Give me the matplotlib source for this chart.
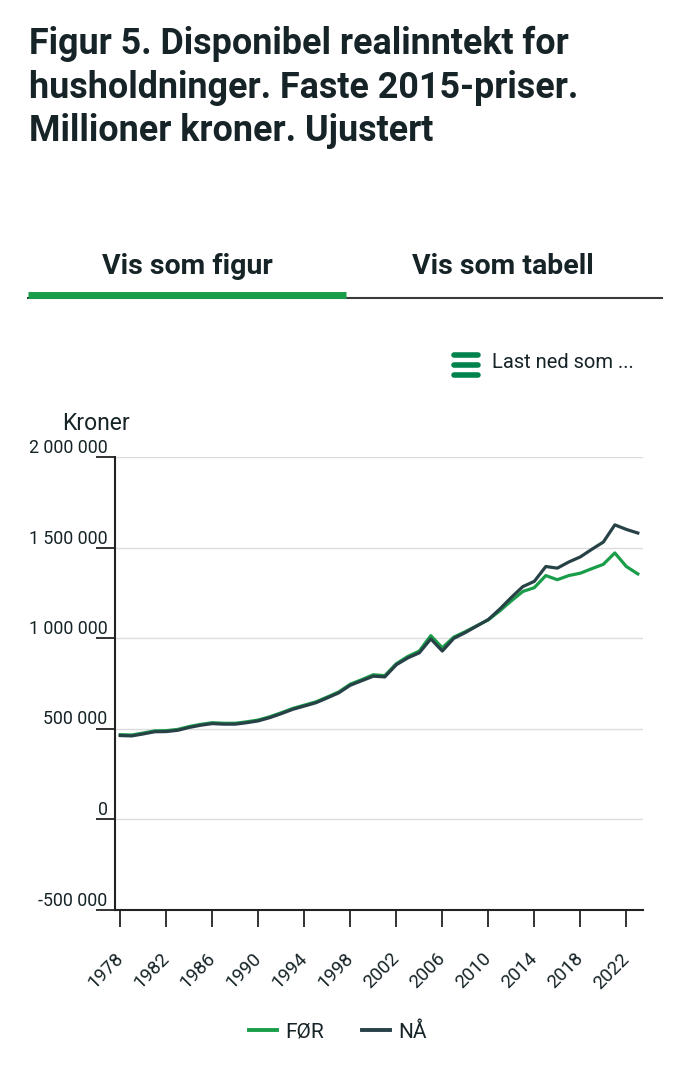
import matplotlib
matplotlib.use('Agg')
import matplotlib.pyplot as plt
from matplotlib.lines import Line2D
from matplotlib.transforms import ScaledTranslation

plt.rcParams['font.family'] = ['Roboto', 'DejaVu Sans']

# data
years = list(range(1978, 2024))
for_vals = [466000, 464000, 475000, 487000, 488000, 495000, 511000, 523000, 532000, 529000,
            529000, 537000, 547000, 565000, 587000, 611000, 629000, 647000, 674000, 702000,
            745000, 770000, 797000, 792000, 858000, 898000, 928000, 1013000, 946000, 1005000,
            1035000, 1068000, 1100000, 1150000, 1205000, 1257000, 1278000, 1345000, 1322000, 1345000,
            1358000, 1383000, 1407000, 1470000, 1395000, 1354000]
naa_vals = [461000, 459000, 470000, 482000, 483000, 490000, 506000, 518000, 527000, 524000,
            524000, 532000, 542000, 560000, 582000, 606000, 624000, 642000, 669000, 697000,
            739000, 764000, 789000, 785000, 852000, 890000, 918000, 995000, 928000, 998000,
            1030000, 1066000, 1102000, 1160000, 1224000, 1284000, 1313000, 1395000, 1386000, 1420000,
            1448000, 1490000, 1530000, 1625000, 1600000, 1580000]
series_names = ['FØR', 'NÅ']
y_ticks = [-500000, 0, 500000, 1000000, 1500000, 2000000]
y_labels = ['-500 000', '0', '500 000', '1 000 000', '1 500 000', '2 000 000']
x_ticks = list(range(1978, 2023, 4))

GREEN = '#1a9d49'
DARK = '#274247'
TXT = '#162327'

W, H = 690, 1088
fig = plt.figure(figsize=(W / 100, H / 100), dpi=100)

def fx(px):
    return px / W

def fy(py):
    return 1 - py / H

# title
title = 'Figur 5. Disponibel realinntekt for\nhusholdninger. Faste 2015-priser.\nMillioner kroner. Ujustert'
fig.text(fx(29), fy(26), title, fontsize=25.8, fontweight='bold', color=TXT,
         va='top', ha='left', linespacing=1.26)

# tabs
fig.text(fx(187), fy(266), 'Vis som figur', fontsize=20.5, fontweight='bold', color=TXT,
         ha='center', va='center')
fig.text(fx(503), fy(266), 'Vis som tabell', fontsize=20.5, fontweight='bold', color=TXT,
         ha='center', va='center')
fig.add_artist(Line2D([fx(28), fx(662)], [fy(298), fy(298)], color='#3a3a3a', lw=1.5))
fig.add_artist(Line2D([fx(28), fx(346)], [fy(294.5), fy(294.5)], color=GREEN, lw=5,
                      solid_capstyle='butt'))

# download menu
for py in [355.5, 365, 374.5]:
    fig.add_artist(Line2D([fx(454), fx(478)], [fy(py), fy(py)], color='#00824d', lw=4,
                          solid_capstyle='round'))
fig.text(fx(492), fy(362), 'Last ned som ...', fontsize=14.5, color=TXT, ha='left', va='center')

fig.text(fx(62), fy(430), 'Kroner', fontsize=16.5, color=TXT, ha='left', va='baseline')

# axes
ax = fig.add_axes([fx(114.5), fy(909.5), fx(643) - fx(114.5), fy(457) - fy(909.5)])
ax.plot(years, for_vals, color=GREEN, lw=2.3, label=series_names[0])
ax.plot(years, naa_vals, color=DARK, lw=2.3, label=series_names[1])

ax.set_xlim(1977.5, 2023.45)
ax.set_ylim(-500000, 2000000)
ax.set_yticks(y_ticks)
ax.set_yticklabels(y_labels, va='bottom', fontsize=12.8, color=TXT)
ax.set_xticks(x_ticks)
ax.set_xticklabels([str(x) for x in x_ticks], rotation=45, ha='right', va='center',
                   rotation_mode='anchor', fontsize=13.5, color=TXT)
shift = ScaledTranslation(6 / 100, 0, fig.dpi_scale_trans)
for lbl in ax.get_xticklabels():
    lbl.set_transform(lbl.get_transform() + shift)
ax.tick_params(axis='y', length=14, width=1.3, color='#222222', pad=-9)
ax.tick_params(axis='x', length=12.5, width=1.3, color='#222222', pad=21)
ax.grid(axis='y', color='#dcdcdc', lw=1)
ax.set_axisbelow(True)
for s in ['top', 'right']:
    ax.spines[s].set_visible(False)
for s in ['left', 'bottom']:
    ax.spines[s].set_color('#222222')
    ax.spines[s].set_linewidth(1.5)

handles = [Line2D([], [], color=GREEN, lw=2.8), Line2D([], [], color=DARK, lw=2.8)]
fig.legend(handles, series_names, loc='center', bbox_to_anchor=(fx(338), fy(1032)), ncol=2,
           frameon=False, fontsize=15, handlelength=1.35, columnspacing=1.8, handletextpad=0.4,
           labelcolor=TXT)

fig.savefig('out.png', dpi=100)
